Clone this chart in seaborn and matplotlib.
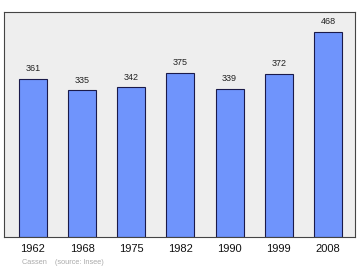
import matplotlib
matplotlib.use("Agg")
import matplotlib.pyplot as plt
import seaborn as sns
import pandas as pd

years = ["1962", "1968", "1975", "1982", "1990", "1999", "2008"]
population = [361, 335, 342, 375, 339, 372, 468]
footer = "Cassen    (source: Insee)"

sns.set_style("white")
plt.rcParams['font.family'] = ['Liberation Sans', 'DejaVu Sans']

df = pd.DataFrame({"year": years, "pop": population})

fig = plt.figure(figsize=(3.6, 2.7), dpi=100)
ax = fig.add_axes([4/360, 33/270, 351/360, 225/270])
ax.set_facecolor("#eeeeee")

sns.barplot(data=df, x="year", y="pop", ax=ax, color="#6f94fc",
            saturation=1, width=0.57, edgecolor="#1a1a4a", linewidth=0.8)

for i, v in enumerate(population):
    ax.text(i, v + 13, str(v), ha="center", va="bottom", fontsize=6.5, color="#222222")

ax.set_ylim(0, 514)
ax.set_xlim(-0.59, 6.55)
ax.set_yticks([])
ax.set_xlabel("")
ax.set_ylabel("")
ax.tick_params(axis="x", length=0, pad=5, labelsize=8, colors="#111111")
for s in ax.spines.values():
    s.set_color("#444444")
    s.set_linewidth(0.8)

fig.text(22/360, 1 - 262/270, footer, fontsize=5.3, color="#aaaaaa", va="center", ha="left")

fig.savefig("out.png", dpi=100)
